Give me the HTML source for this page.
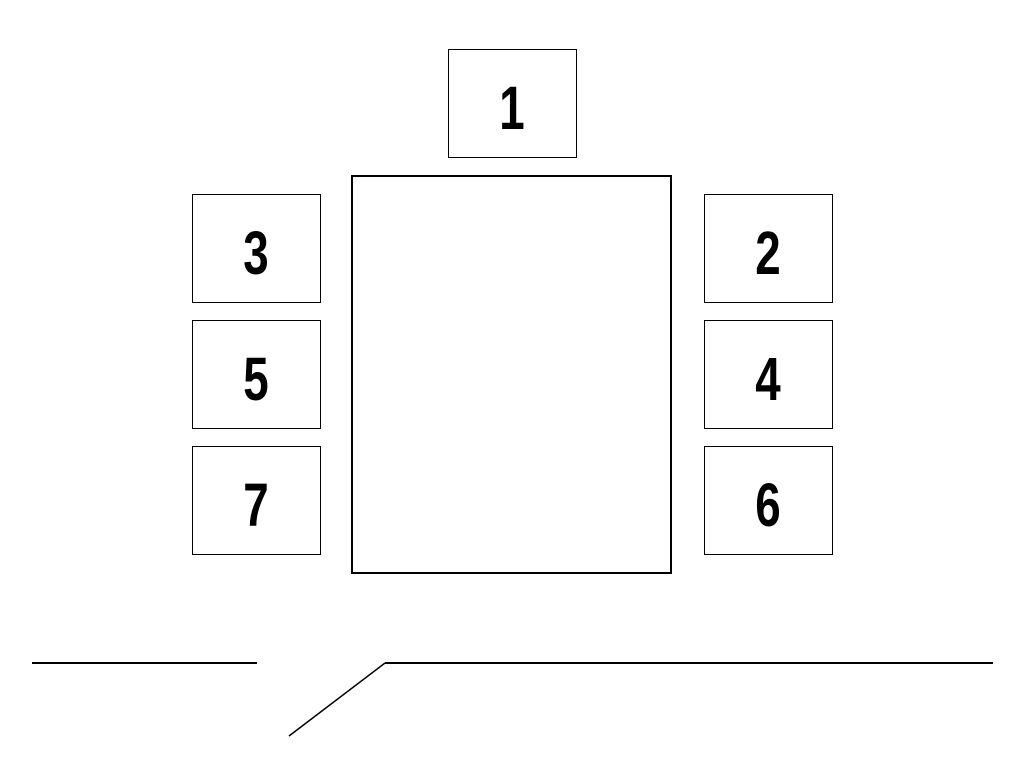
<!DOCTYPE html>
<html><head><meta charset="utf-8"><style>html,body{margin:0;padding:0;background:#fff}</style></head><body>
<svg width="1025" height="771" xmlns="http://www.w3.org/2000/svg" style="display:block">
<rect width="1025" height="771" fill="#fff"/>
<g fill="none" stroke="#000" stroke-width="1">
<rect x="448.5" y="49.5" width="128" height="108"/>
<rect x="192.5" y="194.5" width="128" height="108"/>
<rect x="192.5" y="320.5" width="128" height="108"/>
<rect x="192.5" y="446.5" width="128" height="108"/>
<rect x="704.5" y="194.5" width="128" height="108"/>
<rect x="704.5" y="320.5" width="128" height="108"/>
<rect x="704.5" y="446.5" width="128" height="108"/>
<rect x="352" y="176" width="319" height="397" stroke-width="2"/>
<line x1="32" y1="663" x2="257" y2="663" stroke-width="2"/>
<line x1="385" y1="663" x2="993" y2="663" stroke-width="2"/>
<line x1="385" y1="663" x2="289" y2="736" stroke-width="1.5"/>
</g>
<g font-family="Liberation Sans, sans-serif" font-size="61" font-weight="bold" text-anchor="middle" fill="#000">
<text transform="translate(512,129) scale(0.75,1)">1</text>
<text transform="translate(256,274) scale(0.75,1)">3</text>
<text transform="translate(256,400) scale(0.75,1)">5</text>
<text transform="translate(256,526) scale(0.75,1)">7</text>
<text transform="translate(768,274) scale(0.75,1)">2</text>
<text transform="translate(768,400) scale(0.75,1)">4</text>
<text transform="translate(768,526) scale(0.75,1)">6</text>
</g>
</svg>
</body></html>
